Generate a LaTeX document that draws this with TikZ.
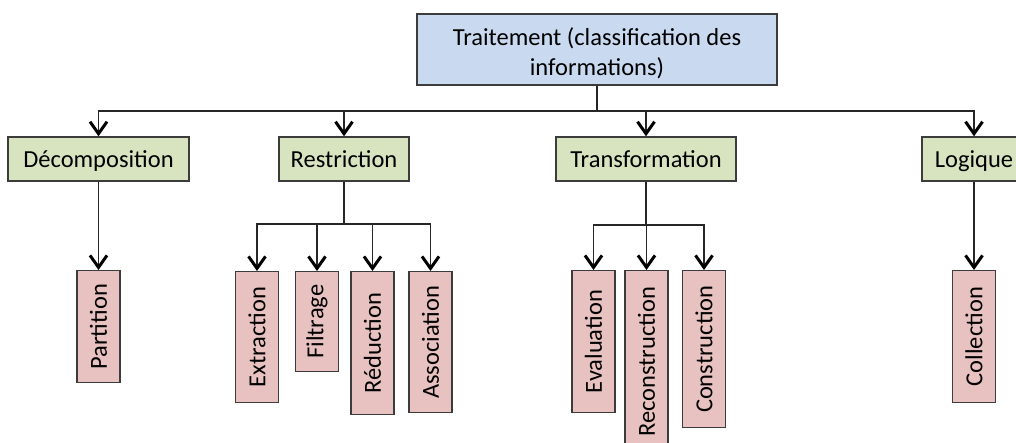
\documentclass[tikz,border=0pt]{standalone}
\usepackage{fontspec}
\setmainfont{Carlito}
\usetikzlibrary{arrows.meta}
\definecolor{topfill}{HTML}{C9DAF0}
\definecolor{midfill}{HTML}{D8E4BF}
\definecolor{leaffill}{HTML}{E8C2C1}
\definecolor{edgegray}{HTML}{3C3C3C}
\tikzset{
  base/.style={draw=edgegray, line width=1.4pt, inner sep=0pt, font=\fontsize{24.5}{30}\selectfont, text=black},
  topbox/.style={base, fill=topfill, minimum width=360pt, minimum height=71pt, align=center},
  midbox/.style={base, fill=midfill, minimum height=44pt, text height=21pt, text depth=3pt},
  leaf/.style={base, fill=leaffill, rotate=90, minimum height=43pt, anchor=east},
  arr/.style={line width=1.3pt, draw=black!85, arrows={-Straight Barb[length=12pt, width=17pt, line width=3pt, color=black]}},
  plain/.style={line width=1.7pt, draw=black!85},
}
\begin{document}
\begin{tikzpicture}[x=1pt,y=-1pt]
\useasboundingbox (0,0) rectangle (1016,443);
\fill[white] (0,0) rectangle (1016,443);
\node[topbox] (top) at (597,49.5) {\rule{0pt}{25pt}Traitement (classification des\\informations)};
\coordinate (bus) at (0,111);
\node[midbox, minimum width=181pt] (dec) at (98.5,159) {Décomposition};
\node[midbox, minimum width=130pt] (res) at (344,159) {Restriction};
\node[midbox, minimum width=180pt] (tra) at (646,159) {Transformation};
\node[midbox, minimum width=104pt] (log) at (974,159) {Logique};
\coordinate (rbus) at (0,224);
\coordinate (tbus) at (0,225);
\node[leaf, minimum width=112pt] (par) at (98.5,270) {Partition};
\node[leaf, minimum width=131pt] (ext) at (257,271) {Extraction};
\node[leaf, minimum width=100pt] (fil) at (317,271) {Filtrage};
\node[leaf, minimum width=143pt] (red) at (372.5,271) {Réduction};
\node[leaf, minimum width=141pt] (ass) at (430.5,271) {Association};
\node[leaf, minimum width=142pt] (eva) at (593.5,270) {Evaluation};
\node[leaf, minimum width=182pt] (rec) at (646.5,270) {Reconstruction};
\node[leaf, minimum width=157pt] (con) at (704,270) {Construction};
\node[leaf, minimum width=132pt] (col) at (974,270) {Collection};
\draw[plain] (top.south) -- (top.south |- bus);
\foreach \n in {dec,res,tra,log}
  \draw[arr] (top.south |- bus) -| (\n.north);
\draw[plain] (res.south) -- (res.south |- rbus);
\foreach \n in {ext,fil,red,ass}
  \draw[arr] (res.south |- rbus) -| (\n.east);
\draw[plain] (tra.south) -- (tra.south |- tbus);
\foreach \n in {eva,rec,con}
  \draw[arr] (tra.south |- tbus) -| (\n.east);
\draw[arr] (dec.south) -- (par.east);
\draw[arr] (log.south) -- (col.east);
\end{tikzpicture}
\end{document}
